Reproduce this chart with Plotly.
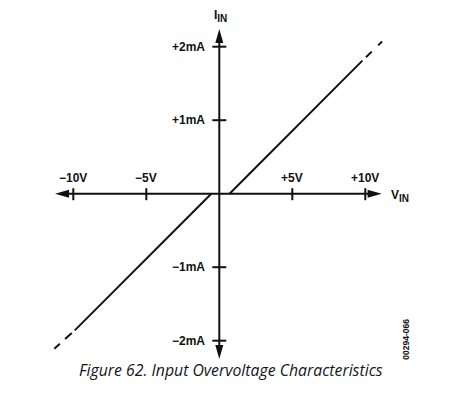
import plotly.graph_objects as go

# ---- data ----
v_upper = [0.7, 9.8]
i_upper = [0.0, 1.81]
v_upper_ext = [9.8, 11.15]
i_upper_ext = [1.81, 2.07]
v_lower = [-0.55, -9.9]
i_lower = [0.0, -1.86]
v_lower_ext = [-9.9, -11.3]
i_lower_ext = [-1.86, -2.11]

x_ticks = [-10, -5, 5, 10]
x_tick_labels = ["\u221210V", "\u22125V", "+5V", "+10V"]
y_ticks = [2, 1, -1, -2]
y_tick_labels = ["+2mA", "+1mA", "\u22121mA", "\u22122mA"]

caption = "Figure 62. Input Overvoltage Characteristics"
fig_id = "00294-066"

# ---- layout geometry (page body has an 8px margin) ----
OFF = 8
W, H = 473 - OFF, 398 - OFF
X0, Y0 = 219.3 - OFF, 193.7 - OFF   # pixel position of origin in figure
SX, SY = 14.6, 73.5                 # pixels per V, pixels per mA
XR = [-X0 / SX, (W - X0) / SX]
YR = [(Y0 - H) / SY, Y0 / SY]

def dx(px):
    return px / SX

def dy(px):
    return px / SY

X_LEFT, X_RIGHT = -11.25, 11.12
Y_TOP, Y_BOT = 2.24, -2.25

INK = "#111111"
LW = 2

fig = go.Figure()

# axes lines
fig.add_trace(go.Scatter(x=[X_LEFT + dx(6), X_RIGHT - dx(6)], y=[0, 0], mode="lines",
                         line=dict(color=INK, width=LW), hoverinfo="skip"))
fig.add_trace(go.Scatter(x=[0, 0], y=[Y_TOP - dy(6), Y_BOT + dy(6)], mode="lines",
                         line=dict(color=INK, width=LW), hoverinfo="skip"))

# tick marks
tx, ty = [], []
for t in x_ticks:
    tx += [t, t, None]
    ty += [dy(5.5), -dy(6.5), None]
for t in y_ticks:
    tx += [-dx(7), dx(7), None]
    ty += [t, t, None]
fig.add_trace(go.Scatter(x=tx, y=ty, mode="lines", line=dict(color=INK, width=LW),
                         hoverinfo="skip"))

# characteristic
for xs, ys, dash in [(v_upper, i_upper, "solid"), (v_lower, i_lower, "solid"),
                     (v_upper_ext, i_upper_ext, "0px,5px,8px,4px"),
                     (v_lower_ext, i_lower_ext, "0px,4px,9px,3px")]:
    fig.add_trace(go.Scatter(x=xs, y=ys, mode="lines",
                             line=dict(color=INK, width=LW, dash=dash),
                             hoverinfo="skip"))

# arrow heads
HL, HW = 14, 4
shapes = []
def tri(p):
    return dict(type="path", path=p, fillcolor=INK, line=dict(width=0), xref="x", yref="y")
shapes.append(tri(f"M{X_RIGHT},0 L{X_RIGHT - dx(HL)},{dy(HW)} L{X_RIGHT - dx(HL)},{-dy(HW)} Z"))
shapes.append(tri(f"M{X_LEFT},0 L{X_LEFT + dx(HL)},{dy(HW)} L{X_LEFT + dx(HL)},{-dy(HW)} Z"))
shapes.append(tri(f"M0,{Y_TOP} L{dx(HW)},{Y_TOP - dy(HL)} L{-dx(HW)},{Y_TOP - dy(HL)} Z"))
shapes.append(tri(f"M0,{Y_BOT} L{dx(HW)},{Y_BOT + dy(HL)} L{-dx(HW)},{Y_BOT + dy(HL)} Z"))

LFONT = dict(family="Liberation Sans, Arial, sans-serif", size=12, color=INK)
SUB = "<span style='font-size:10px'>IN</span>"
ann = []
for t, lab in zip(x_ticks, x_tick_labels):
    ann.append(dict(x=t, y=0, text=f"<b>{lab}</b>", showarrow=False, xanchor="center",
                    yanchor="middle", yshift=16, font=LFONT))
for t, lab in zip(y_ticks, y_tick_labels):
    ann.append(dict(x=0, y=t, text=f"<b>{lab}</b>", showarrow=False, xanchor="right",
                    yanchor="middle", xshift=-12, font=LFONT))
ann.append(dict(x=0, y=Y_TOP, text=f"<b>I<sub>{SUB}</sub></b>", showarrow=False,
                xanchor="center", yanchor="bottom", xshift=1, yshift=3, font=LFONT))
ann.append(dict(x=X_RIGHT, y=0, text=f"<b>V<sub>{SUB}</sub></b>", showarrow=False,
                xanchor="left", yanchor="middle", xshift=7, yshift=-2, font=LFONT))
ann.append(dict(xref="paper", yref="paper", x=(405.7 - OFF) / W, y=1 - (339 - OFF) / H,
                text=f"<b>{fig_id}</b>", textangle=-90, showarrow=False, xanchor="center",
                yanchor="middle",
                font=dict(family="Liberation Sans, Arial, sans-serif", size=8.5, color=INK)))
ann.append(dict(xref="paper", yref="paper", x=(231 - OFF) / W, y=1 - (370 - OFF) / H,
                text=f"<i>{caption}</i>", showarrow=False, xanchor="center",
                yanchor="middle",
                font=dict(family="Open Sans, sans-serif", size=15.8, color="#151520")))

fig.update_layout(
    width=W, height=H, margin=dict(l=0, r=0, t=0, b=0),
    paper_bgcolor="white", plot_bgcolor="white", showlegend=False,
    xaxis=dict(range=XR, visible=False, fixedrange=True),
    yaxis=dict(range=YR, visible=False, fixedrange=True),
    shapes=shapes, annotations=ann,
)

fig.write_html("out.html")
